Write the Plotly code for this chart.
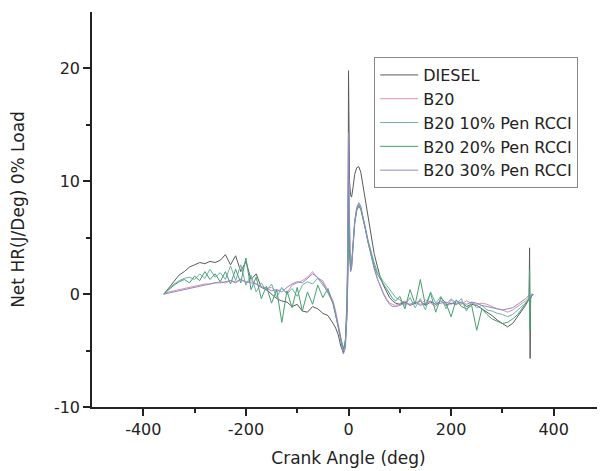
import plotly.graph_objects as go

# Crank angle grid (deg)
crank_angle = [
    -360, -350, -340, -330, -320, -310, -300, -290, -280, -270, -260, -250, -240, -230, -220, -210, -200,
    -190, -180, -170, -160, -150, -140, -130, -120, -110, -100, -90, -80, -70, -60, -50, -40, -30,
    -25, -20, -15, -10, -6, -3, -1, 0, 1, 2, 4, 6, 9, 12, 16, 20, 24, 28, 33, 38, 44, 50, 56, 62, 68, 74, 80, 86, 92,
    100, 110, 120, 130, 140, 150, 160, 170, 180, 190, 200, 210, 220, 230, 240, 250, 260, 270, 280, 290, 300, 310, 320, 330, 340,
    345, 350, 352, 353, 354, 355, 356, 358, 360,
]

diesel = [
    0.0, 0.6, 1.2, 1.7, 2.0, 2.4, 2.6, 2.8, 2.7, 2.9, 2.8, 3.0, 3.5, 2.6, 3.4, 2.0, 2.9,
    1.3, 1.8, 0.6, 0.4, 0.0, -0.4, -0.6, -0.7, -1.1, -0.9, -1.5, -1.6, -1.1, -1.3, -1.7, -1.9, -2.6,
    -3.0, -3.6, -4.6, -5.2, -4.0, -2.0, 2.0, 19.8, 14.0, 10.0, 8.8, 8.6, 9.5, 10.6, 11.2, 11.3, 10.8, 9.7, 8.2, 6.6, 5.0, 3.6, 2.5, 1.5, 0.8, 0.2, -0.3, -0.6, -0.8,
    -0.9, -0.7, -1.0, -0.8, -0.6, -1.0, -0.7, -0.9, -0.6, -1.0, -0.8, -0.9, -0.7, -1.1, -0.9, -1.0, -1.3, -1.6, -1.9, -2.3, -2.6, -2.9, -2.6, -2.0, -1.4,
    -1.0, -0.6, -0.4, 4.1, -5.7, -0.3, -0.2, -0.1, 0.0,
]

b20 = [
    0.0, 0.2, 0.3, 0.4, 0.5, 0.6, 0.7, 0.8, 0.9, 0.9, 1.0, 1.1, 1.0, 1.2, 1.1, 1.3, 1.0,
    1.2, 0.9, 0.7, 0.5, 0.6, 0.2, 0.5, 0.1, 0.8, 1.0, 1.2, 1.5, 2.0, 1.4, 1.2, 0.3, -0.6,
    -1.5, -2.6, -3.8, -5.0, -4.5, -1.0, 6.0, 12.0, 8.0, 4.5, 2.2, 2.5, 4.5, 6.5, 7.7, 8.0, 7.6, 6.8, 5.6, 4.5, 3.3, 2.3, 1.4, 0.7, 0.1, -0.4, -0.8, -0.9, -1.0,
    -0.8, -0.6, -1.0, -0.7, -0.9, -0.5, -0.8, -1.1, -0.6, -0.9, -0.4, -0.8, -0.9, -0.6, -0.8, -0.9, -0.8, -0.9, -1.1, -1.3, -1.4, -1.6, -1.4, -1.1, -0.8,
    -0.6, -0.4, -0.3, -0.2, -0.3, -0.2, -0.1, -0.1, 0.0,
]

b20_10pen = [
    0.0, 0.5, 0.9, 1.2, 1.4, 1.5, 1.3, 1.8, 1.4, 2.2, 1.5, 1.9, 1.3, 2.5, 1.2, 2.6, 0.8,
    1.7, 0.2, 1.0, 0.3, 0.9, -0.3, 0.6, 0.0, 0.5, -0.2, 0.8, 1.1, 0.9, 1.4, 0.8, 0.2, -0.8,
    -1.7, -2.8, -3.9, -4.8, -4.2, -0.5, 4.0, 11.0, 7.0, 4.0, 2.5, 2.8, 4.6, 6.4, 7.5, 7.9, 7.6, 6.9, 5.9, 4.8, 3.7, 2.8, 2.0, 1.5, 1.1, 0.8, 0.4, 0.1, -0.3,
    -0.5, -1.0, -0.3, -1.2, -0.4, -1.4, 0.2, -0.8, -0.2, -1.3, -0.5, -0.9, -0.4, -1.5, -0.7, -1.2, -1.0, -1.4, -1.5, -1.7, -1.8, -2.0, -1.8, -1.4, -1.0,
    -0.8, -0.5, -0.4, -0.3, -0.5, -0.3, -0.2, -0.1, 0.0,
]

b20_20pen = [
    0.0, 0.4, 0.8, 1.1, 1.3, 1.0, 1.6, 1.2, 2.0, 1.3, 1.8, 1.1, 2.0, 0.9, 2.2, 1.0, 3.2,
    0.4, 1.5, -0.4, 0.7, -0.8, 0.4, -2.5, 0.3, -1.2, 0.6, -1.5, 0.2, -0.9, 0.8, -0.3, 0.5, -0.9,
    -1.8, -2.9, -4.0, -4.9, -4.3, -0.7, 3.5, 10.0, 6.5, 3.5, 2.0, 2.4, 4.3, 6.2, 7.4, 7.8, 7.5, 6.8, 5.7, 4.6, 3.4, 2.5, 1.8, 1.3, 0.9, 0.5, 0.0, -0.4, -0.6,
    -0.2, -1.3, 0.4, -0.9, 1.3, -1.0, 0.1, -1.6, -0.3, -0.8, -2.0, -0.5, -1.1, -1.3, -1.0, -3.2, -1.3, -1.8, -2.2, -2.4, -2.6, -2.5, -2.2, -1.8, -1.2,
    -0.9, -0.6, -0.4, 2.2, -3.2, -0.4, -0.2, -0.1, 0.0,
]

b20_30pen = [
    0.0, 0.1, 0.2, 0.3, 0.4, 0.5, 0.6, 0.7, 0.8, 0.9, 1.0, 1.0, 1.1, 1.2, 1.0, 1.3, 1.1,
    1.0, 0.9, 0.6, 0.5, 0.3, 0.4, 0.2, 0.6, 0.9, 1.1, 1.0, 1.4, 1.8, 1.5, 1.0, 0.1, -0.8,
    -1.8, -3.0, -4.2, -5.3, -4.8, -1.5, 7.0, 14.3, 9.0, 5.0, 2.0, 2.3, 4.3, 6.3, 7.6, 8.1, 7.8, 7.0, 5.8, 4.6, 3.4, 2.3, 1.4, 0.6, 0.0, -0.5, -0.9, -1.1, -1.1,
    -1.0, -0.8, -0.9, -0.7, -1.0, -0.8, -0.6, -0.9, -0.8, -0.7, -0.9, -0.6, -0.8, -0.9, -0.7, -0.8, -1.0, -1.1, -1.2, -1.3, -1.4, -1.3, -1.2, -0.9, -0.6,
    -0.4, -0.2, -0.1, 0.0, -0.1, 0.0, 0.0, 0.0, 0.0,
]

series_names = ["DIESEL", "B20", "B20 10% Pen RCCI", "B20 20% Pen RCCI", "B20 30% Pen RCCI"]
series_values = [diesel, b20, b20_10pen, b20_20pen, b20_30pen]
series_colors = ["#5a5a5a", "#d993ad", "#6bb3a6", "#46a06e", "#9088c8"]

x_tick_vals = [-400, -200, 0, 200, 400]
x_tick_text = ["-400", "-200", "0", "200", "400"]
x_minor_vals = [-300, -100, 100, 300]
y_tick_vals = [-10, 0, 10, 20]
y_tick_text = ["-10", "0", "10", "20"]
y_minor_vals = [-5, 5, 15]

fig = go.Figure()
for name, vals, col in zip(series_names, series_values, series_colors):
    fig.add_trace(go.Scatter(x=crank_angle, y=vals, mode="lines", name=name,
                             line=dict(color=col, width=1)))

font_family = "DejaVu Sans, Liberation Sans, Arial, sans-serif"
axis_color = "#222222"
fig.update_layout(
    # page body has an 8px default margin; size/margins compensate for it
    width=597, height=463,
    margin=dict(l=84, r=0, t=4, b=64, autoexpand=False),
    paper_bgcolor="white", plot_bgcolor="white",
    font=dict(family=font_family, size=16, color="#222222"),
    showlegend=True,
    legend=dict(x=0.55, y=0.886, xanchor="left", yanchor="top",
                bordercolor="#888888", borderwidth=1, bgcolor="white",
                itemwidth=38,
                font=dict(size=16, color="#222222"), tracegroupgap=0),
    xaxis=dict(range=[-500, 500], showline=True, linecolor=axis_color, linewidth=1.5,
               showgrid=False, zeroline=False, ticks="outside", ticklen=7, tickwidth=1.5,
               tickcolor=axis_color, tickmode="array", tickvals=x_tick_vals, ticktext=x_tick_text,
               minor=dict(tickvals=x_minor_vals, ticks="outside", ticklen=4, tickcolor=axis_color),
               automargin=False,
               title=dict(text="Crank Angle (deg)", font=dict(size=17), standoff=14)),
    yaxis=dict(range=[-10, 25], showline=True, linecolor=axis_color, linewidth=1.5,
               showgrid=False, zeroline=False, ticks="outside", ticklen=7, tickwidth=1.5,
               tickcolor=axis_color, tickmode="array", tickvals=y_tick_vals, ticktext=y_tick_text,
               minor=dict(tickvals=y_minor_vals, ticks="outside", ticklen=4, tickcolor=axis_color),
               automargin=False,
               title=dict(text="Net HR(J/Deg) 0% Load", font=dict(size=17), standoff=26)),
)

fig.write_html("out.html")
